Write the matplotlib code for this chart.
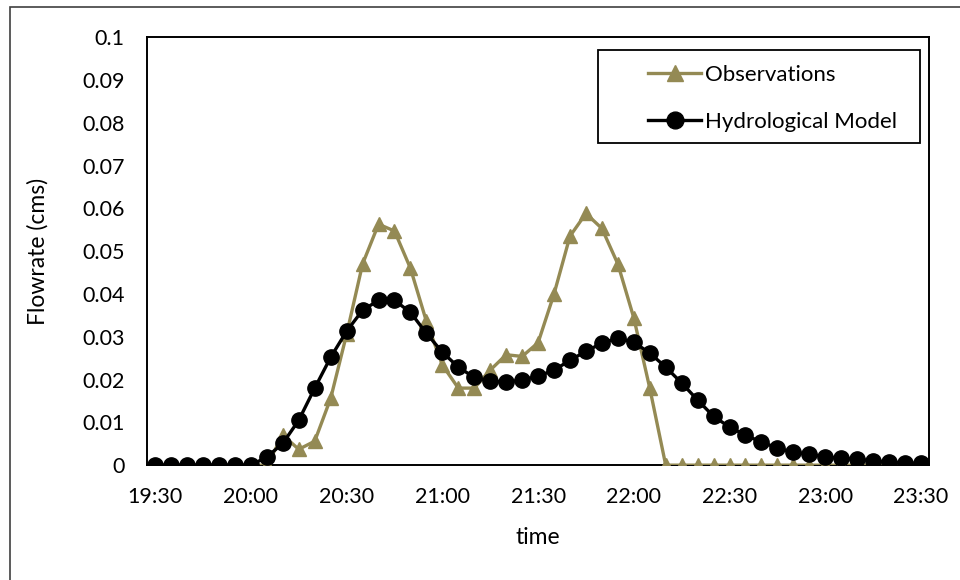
import numpy as np
import pandas as pd
import matplotlib
matplotlib.use("Agg")
import matplotlib.pyplot as plt
import matplotlib.dates as mdates
from matplotlib.patches import Rectangle

# 5-minute time steps, 19:30 -> 23:30
times = pd.date_range("2020-01-01 19:30", "2020-01-01 23:30", freq="5min")

observations = [
    0, 0, 0, 0, 0, 0, 0, 0,
    0.0070, 0.0037, 0.0056, 0.0156, 0.0306, 0.0470, 0.0563, 0.0547,
    0.0460, 0.0336, 0.0234, 0.0180, 0.0180, 0.0222, 0.0258, 0.0254,
    0.0286, 0.0400, 0.0535, 0.0588, 0.0553, 0.0470, 0.0344, 0.0180,
    0, 0, 0, 0, 0, 0, 0, 0,
    0, 0, 0, 0, 0, 0, 0, 0, 0,
]

hydro_model = [
    0, 0, 0, 0, 0, 0, 0, 0.0019,
    0.0051, 0.0105, 0.0180, 0.0252, 0.0313, 0.0362, 0.0385, 0.0385,
    0.0357, 0.0308, 0.0264, 0.0229, 0.0205, 0.0196, 0.0194, 0.0199,
    0.0208, 0.0222, 0.0245, 0.0266, 0.0285, 0.0297, 0.0287, 0.0262,
    0.0229, 0.0192, 0.0152, 0.0114, 0.0089, 0.0070, 0.0054, 0.0040,
    0.0030, 0.0026, 0.0019, 0.0016, 0.0014, 0.0010, 0.0007, 0.0005, 0.0004,
]

y_ticks = [0, 0.01, 0.02, 0.03, 0.04, 0.05, 0.06, 0.07, 0.08, 0.09, 0.1]
y_tick_labels = ["0", "0.01", "0.02", "0.03", "0.04", "0.05", "0.06",
                 "0.07", "0.08", "0.09", "0.1"]

plt.rcParams["font.family"] = ["Lato", "DejaVu Sans"]

fig = plt.figure(figsize=(9.6, 5.8), dpi=100)
ax = fig.add_axes([0.153, 0.198, 0.815, 0.738])

# chart-area border
fig.patches.append(Rectangle((10 / 960, -0.05), 1.2, 1 - 7 / 580 + 0.05,
                             transform=fig.transFigure, fill=False,
                             edgecolor="#404040", linewidth=1.2))

ax.plot(times, observations, color="#948A54", linewidth=2.4,
        marker="^", markersize=10, label="Observations", zorder=3)
ax.plot(times, hydro_model, color="black", linewidth=2.4,
        marker="o", markersize=11, label="Hydrological Model", zorder=4)

pad = pd.Timedelta(minutes=2.6)
ax.set_xlim(times[0] - pad, times[-1] + pad)
ax.set_ylim(0, 0.1)

ax.xaxis.set_major_locator(mdates.MinuteLocator(byminute=[0, 30]))
ax.xaxis.set_major_formatter(mdates.DateFormatter("%H:%M"))
ax.set_yticks(y_ticks)
ax.set_yticklabels(y_tick_labels)
ax.tick_params(axis="both", length=0, labelsize=15.5)
ax.tick_params(axis="x", pad=16)
ax.tick_params(axis="y", pad=16)

for s in ax.spines.values():
    s.set_linewidth(1.4)
    s.set_color("black")

ax.set_xlabel("time", fontsize=16.5, labelpad=14)
ax.set_ylabel("Flowrate (cms)", fontsize=16.5, labelpad=24)

# legend box drawn separately so the inner spacing can be set freely
x0, x1 = (598 - 147) / 782, (920 - 147) / 782
y0, y1 = (465 - 143) / 428, (465 - 50) / 428
ax.add_patch(Rectangle((x0, y0), x1 - x0, y1 - y0, transform=ax.transAxes,
                       facecolor="white", edgecolor="black", linewidth=1.3,
                       zorder=5))
leg = ax.legend(loc="upper left", bbox_to_anchor=((648 - 147) / 782, (465 - 65) / 428),
                fontsize=16, frameon=False, borderpad=0, labelspacing=1.2,
                handlelength=2.4, handletextpad=0.15, borderaxespad=0,
                markerscale=1.1)
leg.set_zorder(6)

fig.savefig("out.png", dpi=100)
